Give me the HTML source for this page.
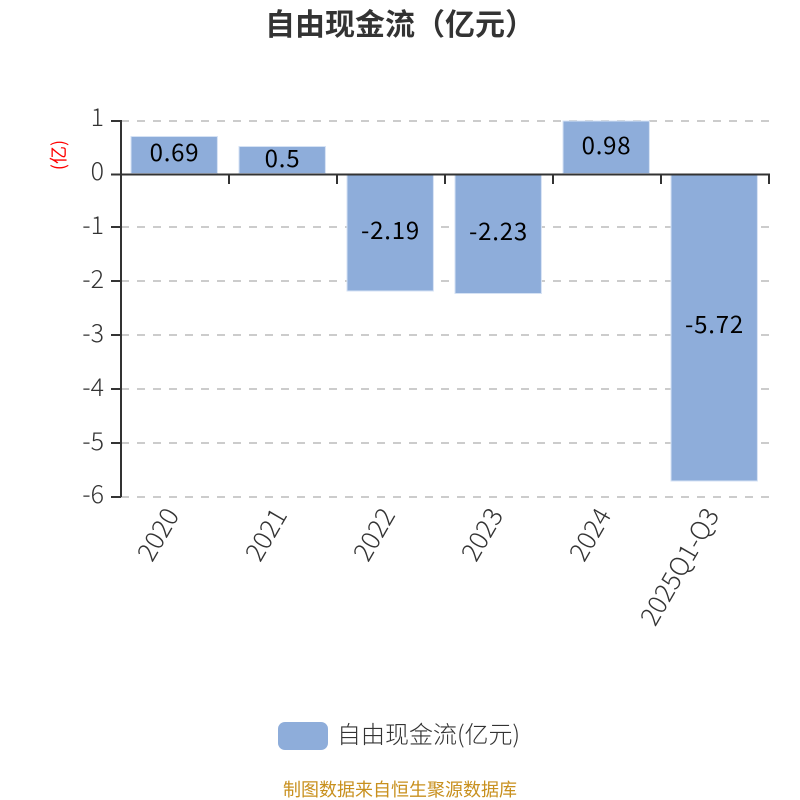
<!DOCTYPE html>
<html><head><meta charset="utf-8"><style>html,body{margin:0;padding:0;background:#fff}svg{display:block}text{font-family:"Noto Sans CJK SC","Liberation Sans",sans-serif}</style></head><body>
<svg width="800" height="800" viewBox="0 0 800 800" xmlns="http://www.w3.org/2000/svg">
<rect width="800" height="800" fill="#fff"/>
<text x="400" y="35" font-size="30" font-weight="700" fill="#333" text-anchor="middle">自由现金流（亿元）</text>
<g stroke="#ccc" stroke-width="2" stroke-dasharray="8 8">
<line x1="121" x2="769" y1="121" y2="121"/>
<line x1="121" x2="769" y1="227" y2="227"/>
<line x1="121" x2="769" y1="281" y2="281"/>
<line x1="121" x2="769" y1="335" y2="335"/>
<line x1="121" x2="769" y1="389" y2="389"/>
<line x1="121" x2="769" y1="443" y2="443"/>
<line x1="121" x2="769" y1="497" y2="497"/>
</g>
<g fill="#8eadda" stroke="#d5e2f4" stroke-width="1">
<rect x="131" y="136.5" width="86.4" height="37"/>
<rect x="239" y="146.500" width="86.4" height="27"/>
<rect x="347" y="174" width="86.4" height="117"/>
<rect x="455" y="174" width="86.4" height="119.5"/>
<rect x="563" y="121" width="86.4" height="52.5"/>
<rect x="671" y="174" width="86.4" height="307"/>
</g>
<g stroke="#333" stroke-width="2" fill="none">
<line x1="121" x2="121" y1="120" y2="497"/>
<line x1="120" x2="770" y1="174.500" y2="174.500"/>
<path d="M111 121H121M111 174.500H121M111 227H121M111 281H121M111 335H121M111 389H121M111 443H121M111 497H121"/>
<path d="M229 174V184M337 174V184M445 174V184M553 174V184M661 174V184M769 174V184"/>
</g>
<g font-size="25" font-weight="300" fill="#333" text-anchor="end">
<text x="104" y="126">1</text><text x="104" y="180">0</text><text x="104" y="234">-1</text><text x="104" y="288">-2</text><text x="104" y="342">-3</text><text x="104" y="396">-4</text><text x="104" y="450">-5</text><text x="104" y="503">-6</text>
</g>
<text transform="translate(65,155) rotate(-90)" font-size="18" font-weight="400" fill="#f00" text-anchor="middle">(亿)</text>
<g font-size="24" font-weight="400" fill="#000" text-anchor="middle" letter-spacing="0.8">
<text x="174.500" y="161">0.69</text><text x="282.500" y="167">0.5</text><text x="390.500" y="239">-2.19</text><text x="498.500" y="240">-2.23</text><text x="606.500" y="154">0.98</text><text x="714.500" y="333">-5.72</text>
</g>
<g font-size="26" font-weight="300" fill="#333" text-anchor="end">
<text transform="translate(180,515) rotate(-60)">2020</text>
<text transform="translate(288,515) rotate(-60)">2021</text>
<text transform="translate(396,515) rotate(-60)">2022</text>
<text transform="translate(504,515) rotate(-60)">2023</text>
<text transform="translate(612,515) rotate(-60)">2024</text>
<text transform="translate(720,515) rotate(-60)">2025Q1-Q3</text>
</g>
<rect x="278" y="722" width="50" height="28" rx="7" fill="#8eadda"/>
<text x="337" y="743" font-size="24" font-weight="300" fill="#333">自由现金流(亿元)</text>
<text x="400" y="796" font-size="18" font-weight="400" fill="#c8901e" text-anchor="middle">制图数据来自恒生聚源数据库</text>
</svg>
</body></html>
